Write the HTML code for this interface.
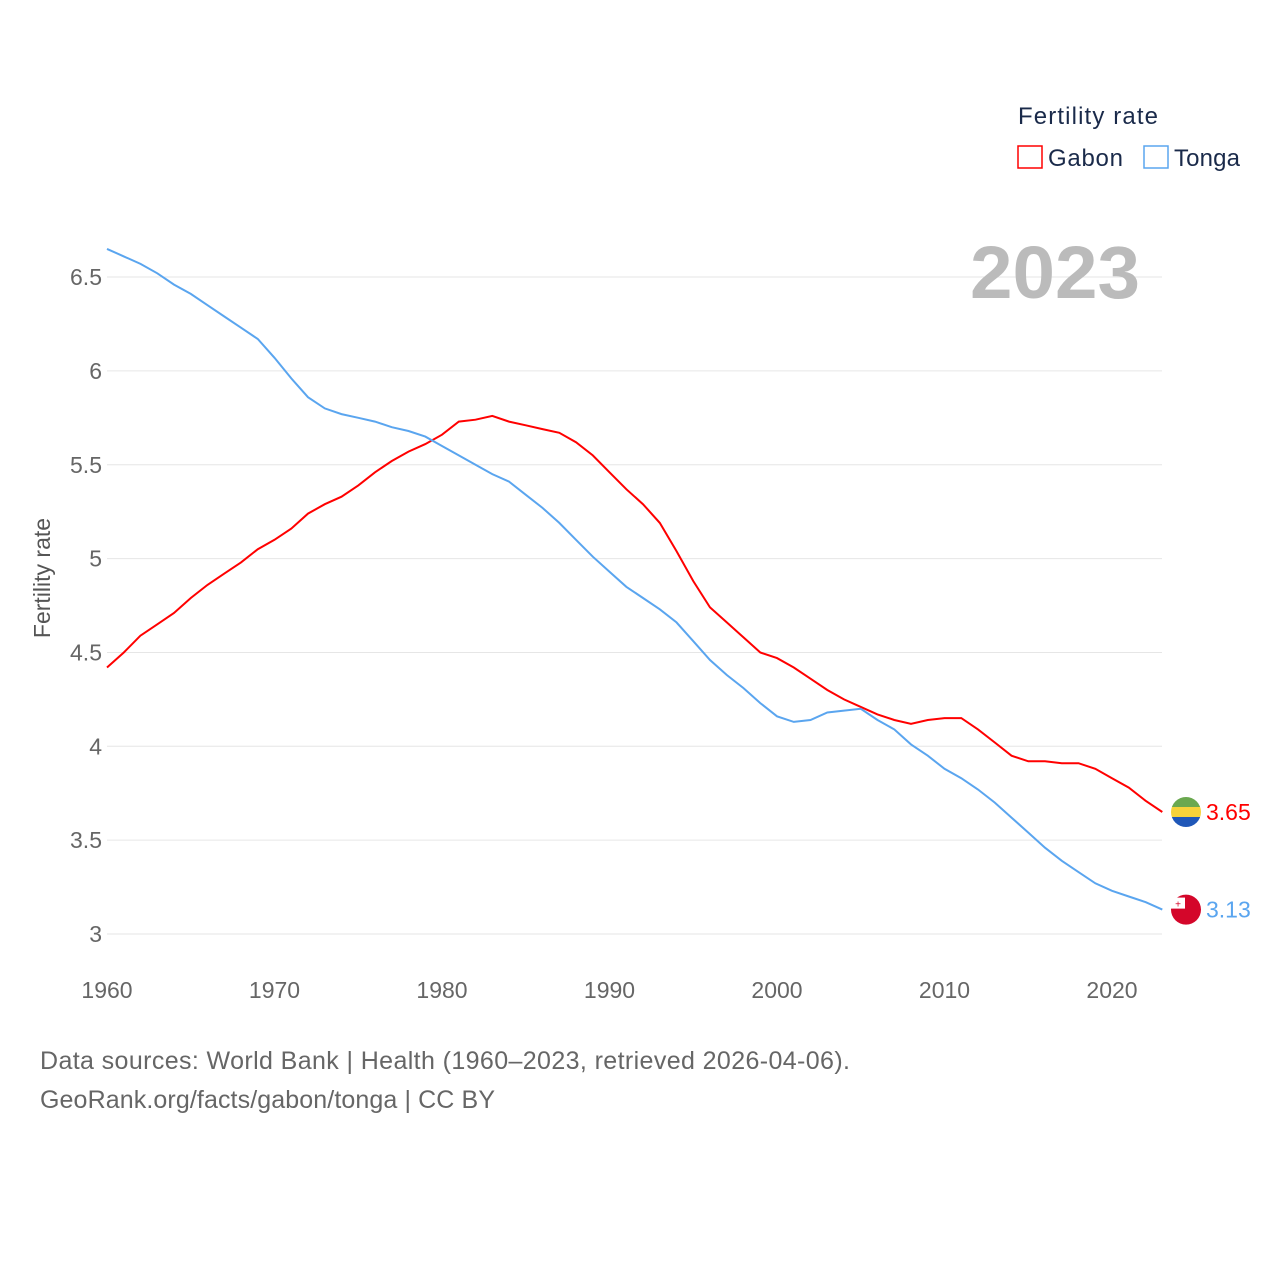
<!DOCTYPE html>
<html><head><meta charset="utf-8"><style>
body{margin:0;background:#fff;font-family:"Liberation Sans",sans-serif}
svg text{font-family:"Liberation Sans",sans-serif}
</style></head><body>
<svg id="chart" width="1280" height="1280" viewBox="0 0 1280 1280">
<g id="grid"></g>
<g id="yticks"></g>
<g id="xticks"></g>
<text x="50" y="578" transform="rotate(-90 50 578)" text-anchor="middle" font-size="23" fill="#555">Fertility rate</text>
<text x="970" y="298" textLength="170" lengthAdjust="spacingAndGlyphs" font-size="74" font-weight="bold" fill="#bbb">2023</text>
<g>
<text x="1018" y="124" font-size="24" textLength="140" fill="#1a2a4a">Fertility rate</text>
<g><rect x="1018" y="146" width="24" height="22" fill="none" stroke="#f00" stroke-width="1.5"/><text x="1048" y="166" font-size="24" textLength="75" fill="#1a2a4a">Gabon</text></g>
<g><rect x="1144" y="146" width="24" height="22" fill="none" stroke="#5aa5ef" stroke-width="1.5"/><text x="1174" y="166" font-size="24" textLength="66" fill="#1a2a4a">Tonga</text></g>
</g>
<g id="lines"></g>
<g id="ends"></g>
<text x="40" y="1069" font-size="25" textLength="810" fill="#666">Data sources: World Bank | Health (1960–2023, retrieved 2026-04-06).</text>
<text x="40" y="1108" font-size="25" textLength="455" fill="#666">GeoRank.org/facts/gabon/tonga | CC BY</text>
</svg>
<script>
const years=[];for(let y=1960;y<=2023;y++)years.push(y);
const gabon=[4.42,4.50,4.59,4.65,4.71,4.79,4.86,4.92,4.98,5.05,5.10,5.16,5.24,5.29,5.33,5.39,5.46,5.52,5.57,5.61,5.66,5.73,5.74,5.76,5.73,5.71,5.69,5.67,5.62,5.55,5.46,5.37,5.29,5.19,5.04,4.88,4.74,4.66,4.58,4.50,4.47,4.42,4.36,4.30,4.25,4.21,4.17,4.14,4.12,4.14,4.15,4.15,4.09,4.02,3.95,3.92,3.92,3.91,3.91,3.88,3.83,3.78,3.71,3.65];
const tonga=[6.65,6.61,6.57,6.52,6.46,6.41,6.35,6.29,6.23,6.17,6.07,5.96,5.86,5.80,5.77,5.75,5.73,5.70,5.68,5.65,5.60,5.55,5.50,5.45,5.41,5.34,5.27,5.19,5.10,5.01,4.93,4.85,4.79,4.73,4.66,4.56,4.46,4.38,4.31,4.23,4.16,4.13,4.14,4.18,4.19,4.20,4.14,4.09,4.01,3.95,3.88,3.83,3.77,3.70,3.62,3.54,3.46,3.39,3.33,3.27,3.23,3.20,3.17,3.13];
const yTicks=[3,3.5,4,4.5,5,5.5,6,6.5];
const yTickLabels=["3","3.5","4","4.5","5","5.5","6","6.5"];
const xTicks=[1960,1970,1980,1990,2000,2010,2020];
const NS="http://www.w3.org/2000/svg";
const X=y=>107+(y-1960)*16.75;
const Y=v=>934-(v-3)*187.7;
function mk(t,a,p){const e=document.createElementNS(NS,t);for(const k in a)e.setAttribute(k,a[k]);p.appendChild(e);return e;}
const grid=document.getElementById('grid'),yt=document.getElementById('yticks'),xt=document.getElementById('xticks');
yTicks.forEach((v,i)=>{
 const l=mk('line',{x1:107,x2:1162,y1:Y(v),y2:Y(v),stroke:'#e6e6e6','stroke-width':1},grid);
 
 
 const t=mk('text',{x:102,y:Y(v)+8,'text-anchor':'end','font-size':23,fill:'#666'},yt);
 t.textContent=yTickLabels[i];
 
 
});
xTicks.forEach(v=>{
 const t=mk('text',{x:X(v),y:998,'text-anchor':'middle','font-size':23,fill:'#666'},xt);
 t.textContent=v;
 
 
});
const lines=document.getElementById('lines'),ends=document.getElementById('ends');
[[gabon,'#f00','gabon'],[tonga,'#5aa5ef','tonga']].forEach(([d,c,n])=>{
 const p=mk('path',{d:d.map((v,i)=>(i?'L':'M')+X(years[i]).toFixed(1)+','+Y(v).toFixed(1)).join(''),fill:'none',stroke:c,'stroke-width':2},lines);
 
 
 const last=d[d.length-1],cy=Y(last);
 const t=mk('text',{x:1206,y:cy+8,'font-size':23,fill:c},ends);
 t.textContent=last.toFixed(2);
 
 
 const g=mk('g',{},ends);
 
 
 if(n==='gabon'){
  const cp=mk('clipPath',{id:'cg'},g);
  mk('circle',{cx:1186,cy:cy,r:15},cp);
  mk('rect',{x:1171,y:cy-15,width:30,height:10,fill:'#6aa84f','clip-path':'url(#cg)'},g);
  mk('rect',{x:1171,y:cy-5,width:30,height:10,fill:'#f6d23a','clip-path':'url(#cg)'},g);
  mk('rect',{x:1171,y:cy+5,width:30,height:10,fill:'#1f57b8','clip-path':'url(#cg)'},g);
 }else{
  mk('circle',{cx:1186,cy:cy,r:15,fill:'#d4062a'},g);
  mk('rect',{x:1171,y:cy-12,width:14,height:11,fill:'#fff'},g);
  mk('text',{x:1178,y:cy-2,'font-size':10,fill:'#d4062a','text-anchor':'middle'},g).textContent='+';
 }
});
</script>
</body></html>
